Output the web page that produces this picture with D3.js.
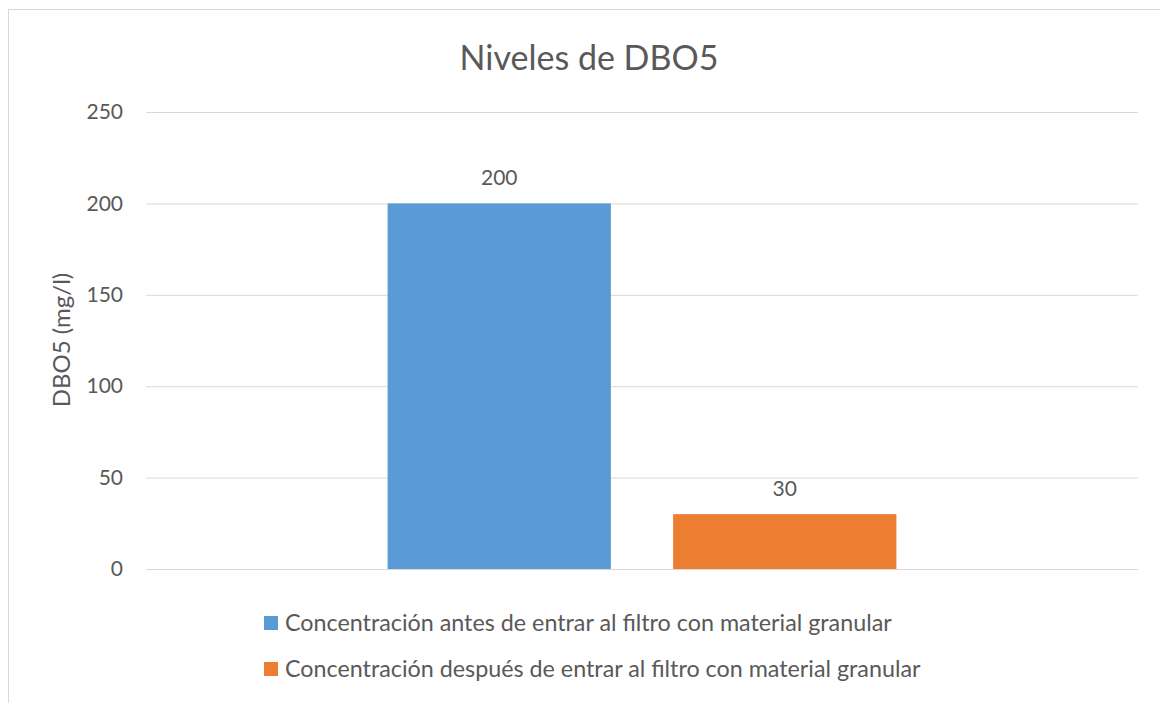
<!DOCTYPE html>
<html>
<head>
<meta charset="utf-8">
<script src="https://cdn.jsdelivr.net/npm/d3@7"></script>
<style>
  body { margin: 0; background: #fff; }
  text { font-family: Lato, "Open Sans", sans-serif; fill: #595959; }
</style>
</head>
<body>
<script>
// chart data
let categories = [""];
let seriesNames = [
  "Concentración antes de entrar al filtro con material granular",
  "Concentración después de entrar al filtro con material granular"
];
let seriesValues = [200, 30];
let seriesColors = ["#5B9BD5", "#ED7D31"];
let yTicks = [0, 50, 100, 150, 200, 250];

let width = 1160, height = 703;
let margin = {left: 146, right: 22, top: 112, bottom: 134};

let svg = d3.select("body").append("svg")
  .attr("width", width)
  .attr("height", height);

// chart area border (cropped at right / bottom)
svg.append("rect")
  .attr("x", 8.5).attr("y", 9.5)
  .attr("width", 1300).attr("height", 900)
  .attr("fill", "#fff")
  .attr("stroke", "#D9D9D9");

let y = d3.scaleLinear().domain([0, 250])
  .range([height - margin.bottom, margin.top]);

let x0 = d3.scaleBand().domain(categories)
  .range([margin.left, width - margin.right])
  .paddingInner(0.322).paddingOuter(0.322);

let x1 = d3.scaleBand().domain(seriesNames)
  .range([0, x0.bandwidth()])
  .paddingInner(0.218).paddingOuter(0);

// gridlines
let yAxis = d3.axisLeft(y).tickValues(yTicks)
  .tickSize(-(width - margin.left - margin.right))
  .tickPadding(23);

let gy = svg.append("g")
  .attr("transform", "translate(" + margin.left + ",0)")
  .call(yAxis);
gy.select(".domain").remove();
gy.selectAll(".tick line").attr("stroke", "#D9D9D9").attr("stroke-width", 1);
gy.selectAll(".tick text")
  .style("font-size", "21px")
  .attr("fill", "#595959");

// bars
let groups = svg.selectAll(".cat")
  .data(categories)
  .enter().append("g")
  .attr("class", "cat")
  .attr("transform", function(d) { return "translate(" + x0(d) + ",0)"; });

groups.selectAll("rect")
  .data(seriesNames.map(function(n, i) { return {name: n, value: seriesValues[i], color: seriesColors[i]}; }))
  .enter().append("rect")
  .attr("x", function(d) { return x1(d.name); })
  .attr("y", function(d) { return y(d.value); })
  .attr("width", x1.bandwidth())
  .attr("height", function(d) { return y(0) - y(d.value); })
  .attr("fill", function(d) { return d.color; });

// data labels
groups.selectAll(".lbl")
  .data(seriesNames.map(function(n, i) { return {name: n, value: seriesValues[i]}; }))
  .enter().append("text")
  .attr("class", "lbl")
  .attr("x", function(d) { return x1(d.name) + x1.bandwidth() / 2; })
  .attr("y", function(d) { return y(d.value) - 18; })
  .attr("text-anchor", "middle")
  .style("font-size", "21px")
  .text(function(d) { return d.value; });

// title
svg.append("text")
  .attr("x", 589).attr("y", 70)
  .attr("text-anchor", "middle")
  .style("font-size", "34px")
  .text("Niveles de DBO5");

// y axis title
svg.append("text")
  .attr("transform", "translate(70,340) rotate(-90)")
  .attr("text-anchor", "middle")
  .style("font-size", "24px")
  .text("DBO5 (mg/l)");

// legend
let legend = svg.selectAll(".leg")
  .data(seriesNames)
  .enter().append("g")
  .attr("class", "leg")
  .attr("transform", function(d, i) { return "translate(264," + (616 + i * 46) + ")"; });

legend.append("rect")
  .attr("width", 14).attr("height", 14)
  .attr("fill", function(d, i) { return seriesColors[i]; });

legend.append("text")
  .attr("x", 21).attr("y", 15)
  .style("font-size", "23.3px")
  .text(function(d) { return d; });
</script>
</body>
</html>
